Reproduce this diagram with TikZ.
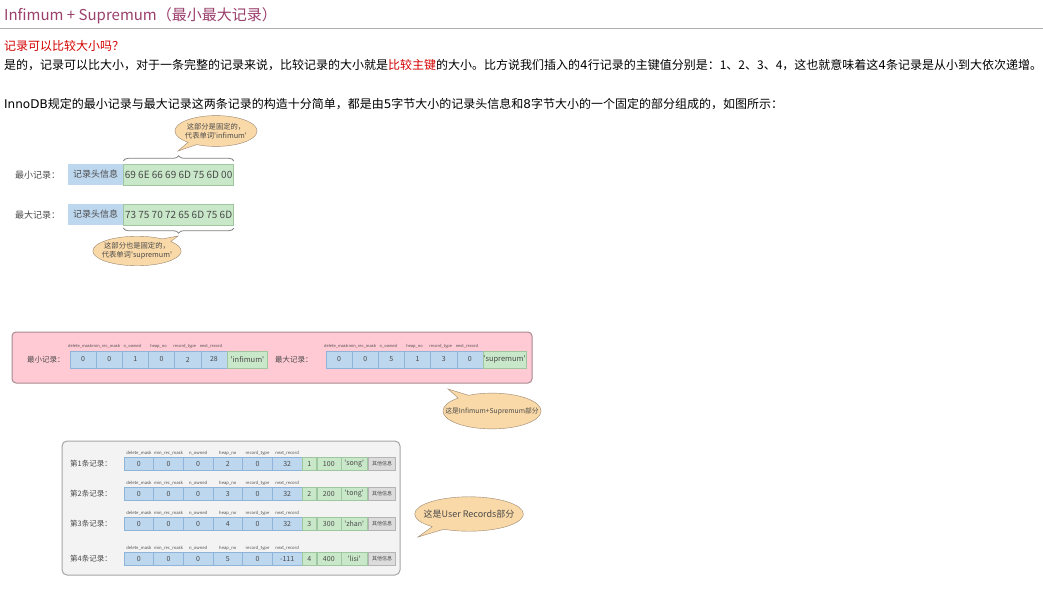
\documentclass[tikz,border=0pt]{standalone}
\usepackage{fontspec}
\setmainfont{Noto Sans CJK SC}
\newfontfamily\verdfont{DejaVu Sans}
\usepackage{tikz}
\usetikzlibrary{positioning,shapes.callouts,decorations.pathreplacing}
\definecolor{titleMauve}{HTML}{9B3F6C}
\definecolor{alertRed}{HTML}{D40000}
\definecolor{ruleGray}{HTML}{B0B0B0}
\definecolor{inkGray}{HTML}{4A4A4A}
\definecolor{headBlue}{HTML}{BDD7EE}
\definecolor{headBlueLine}{HTML}{8EB4DA}
\definecolor{keyGreen}{HTML}{C9E7C9}
\definecolor{keyGreenLine}{HTML}{9FC79F}
\definecolor{otherGray}{HTML}{DCDCDC}
\definecolor{otherGrayLine}{HTML}{B4B4B4}
\definecolor{panelPink}{HTML}{FFCAD4}
\definecolor{panelPinkLine}{HTML}{A88A90}
\definecolor{panelGray}{HTML}{F3F3F3}
\definecolor{panelGrayLine}{HTML}{A6A6A6}
\definecolor{noteFill}{HTML}{FAD9A8}
\definecolor{noteLine}{HTML}{9A8670}
\newcommand{\fs}[1]{\fontsize{#1}{#1}\selectfont}
\newcommand{\qt}[1]{\textquotesingle#1\textquotesingle}
\newcommand{\vd}[1]{{\verdfont #1}}
\tikzset{
  para/.style={anchor=west, inner sep=0pt, font=\fs{12}},
  rowlbl/.style={anchor=west, inner sep=0pt, text=inkGray},
  hdrbox/.style={fill=headBlue, draw=none, minimum width=55, minimum height=21, inner sep=0pt, font=\fs{9}, text=inkGray},
  hexbox/.style={fill=keyGreen, draw=keyGreenLine, minimum width=110, minimum height=21, inner sep=0pt, font=\fs{10}, text=inkGray},
  bluecell/.style={fill=headBlue, draw=headBlueLine, inner sep=0pt, text=inkGray},
  greencell/.style={fill=keyGreen, draw=keyGreenLine, inner sep=0pt, text=inkGray},
  othercell/.style={fill=otherGray, draw=otherGrayLine, inner sep=0pt, text=inkGray, font=\fs{5}},
  fieldlbl/.style={inner sep=0pt, text=inkGray, text height=3.2pt, text depth=0.8pt},
  tagnote/.style={ellipse callout, draw=noteLine, fill=noteFill, align=center, text=inkGray},
  pinkpanel/.style={fill=panelPink, draw=panelPinkLine, line width=1pt, rounded corners=4pt},
  graypanel/.style={fill=panelGray, draw=panelGrayLine, line width=1pt, rounded corners=5pt},
  bracedeco/.style={decorate, decoration={brace, amplitude=5pt}, draw=inkGray!70, line width=0.8pt}
}
\begin{document}
\begin{tikzpicture}[x=1pt,y=-1pt]
  \useasboundingbox (0,0) rectangle (1043,591);
  \fill[white] (0,0) rectangle (1043,591);
  % heading and text
  \node[para, font=\fs{15}, text=titleMauve] (title) at (4,16) {Infimum + Supremum（最小最大记录）};
  \draw[ruleGray, line width=1pt] (0,29) -- (1043,29);
  \node[para, text=alertRed] (ask) at (4,46) {记录可以比较大小吗？};
  \node[para] (answer) at (4,65) {是的，记录可以比大小，对于一条完整的记录来说，比较记录的大小就是\textcolor{alertRed}{比较主键}的大小。比方说我们插入的\vd{4}行记录的主键值分别是：1、2、3、4，这也就意味着这\vd{4}条记录是从小到大依次递增。};
  \node[para] (layout) at (4,104) {\vd{InnoDB}规定的最小记录与最大记录这两条记录的构造十分简单，都是由\vd{5}字节大小的记录头信息和\vd{8}字节大小的一个固定的部分组成的，如图所示：};
  % fixed bytes of the two records
  \node[rowlbl, font=\fs{9}] (minlbl) at (15,175) {最小记录：};
  \node[hdrbox, anchor=west] (minhdr) at (68,174.5) {记录头信息};
  \node[hexbox, right=0pt of minhdr] (minhex) {69 6E 66 69 6D 75 6D 00};
  \node[rowlbl, font=\fs{9}] (maxlbl) at (15,215) {最大记录：};
  \node[hdrbox, anchor=west] (maxhdr) at (68,214.5) {记录头信息};
  \node[hexbox, right=0pt of maxhdr] (maxhex) {73 75 70 72 65 6D 75 6D};
  \draw[bracedeco] ([yshift=3pt]minhex.north west) -- ([yshift=3pt]minhex.north east);
  \draw[bracedeco] ([yshift=-3pt]maxhex.south east) -- ([yshift=-3pt]maxhex.south west);
  \coordinate (infpt) at (178,151);
  \coordinate (suppt) at (178,236);
  \node[tagnote, font=\fontsize{7.3}{9}\selectfont, inner xsep=-2pt, inner ysep=3pt, callout absolute pointer={(infpt)}] (infnote) at (216,131) {这部分是固定的，\\代表单词\qt{infimum}};
  \node[tagnote, font=\fontsize{7.3}{9}\selectfont, inner xsep=-4pt, inner ysep=2pt, callout absolute pointer={(suppt)}] (supnote) at (137,251) {这部分也是固定的，\\代表单词\qt{supremum}};
  % Infimum + Supremum part
  \node[pinkpanel, minimum width=520, minimum height=51] (pinkbox) at (272,357.5) {};
  \node[rowlbl, font=\fs{7.5}] (inflbl) at (27,360) {最小记录：};
  \foreach \val [count=\ci] in {0,0,1,0,2,28}
    \node[bluecell, minimum width=26.17, minimum height=17, font=\fs{7}] (inf\ci) at ({70+26.17*(\ci-0.5)},359.5) {\val};
  \node[greencell, minimum width=40, minimum height=17, font=\fs{7.5}, right=0pt of inf6] (infname) {\qt{infimum}};
  \node[rowlbl, font=\fs{7.5}] (suplbl) at (275,360) {最大记录：};
  \foreach \val [count=\ci] in {0,0,5,1,3,0}
    \node[bluecell, minimum width=26.17, minimum height=17, font=\fs{7}] (sup\ci) at ({326+26.17*(\ci-0.5)},359.5) {\val};
  \node[greencell, minimum width=42, minimum height=17, font=\fs{7.5}, right=0pt of sup6] (supname) {\qt{supremum}};
  \foreach \f [count=\ci] in {delete\_mask,min\_rec\_mask,n\_owned,heap\_no,record\_type,next\_record}{
    \node[fieldlbl, font=\fs{4}, above=2pt of inf\ci, xshift=-3pt] {\f};
    \node[fieldlbl, font=\fs{4}, above=2pt of sup\ci, xshift=-3pt] {\f};
  }
  \coordinate (pinkpt) at (448,389);
  \node[tagnote, font=\fs{6.8}, inner xsep=-12pt, inner ysep=9pt, callout absolute pointer={(pinkpt)}] (pinknote) at (492,411) {这是Infimum+Supremum部分};
  % user records
  \node[graypanel, minimum width=338, minimum height=134] (userbox) at (231,508) {};
  \foreach \rw/\ry/\hp/\nr/\kv/\sc/\nm in {1/464/2/32/1/100/song,2/494/3/32/2/200/tong,3/524/4/32/3/300/zhan,4/559/5/-111/4/400/lisi}{
    \node[rowlbl, font=\fs{7.5}] (rec\rw) at (70,\ry) {第\rw 条记录：};
    \foreach \val [count=\ci] in {0,0,0,\hp,0,\nr}
      \node[bluecell, minimum width=29.67, minimum height=13, font=\fs{7}] (rec\rw f\ci) at ({124+29.67*(\ci-0.5)},\ry) {\val};
    \foreach \f [count=\ci] in {delete\_mask,min\_rec\_mask,n\_owned,heap\_no,record\_type,next\_record}
      \node[fieldlbl, font=\fs{4.2}, above=2pt of rec\rw f\ci] {\f};
    \node[greencell, minimum width=14, minimum height=13, font=\fs{7}, right=0pt of rec\rw f6] (key\rw) {\kv};
    \node[greencell, minimum width=24, minimum height=13, font=\fs{7}, right=0pt of key\rw] (col\rw) {\sc};
    \node[greencell, minimum width=26, minimum height=13, font=\fs{7}, right=0pt of col\rw] (name\rw) {\qt{\nm}};
    \node[othercell, minimum width=27, minimum height=13, right=1pt of name\rw] (more\rw) {其他信息};
  }
  \coordinate (userpt) at (418,537);
  \node[tagnote, font=\fs{9}, inner xsep=-7pt, inner ysep=8pt, callout absolute pointer={(userpt)}] (usernote) at (469,514) {这是User Records部分};
\end{tikzpicture}
\end{document}
